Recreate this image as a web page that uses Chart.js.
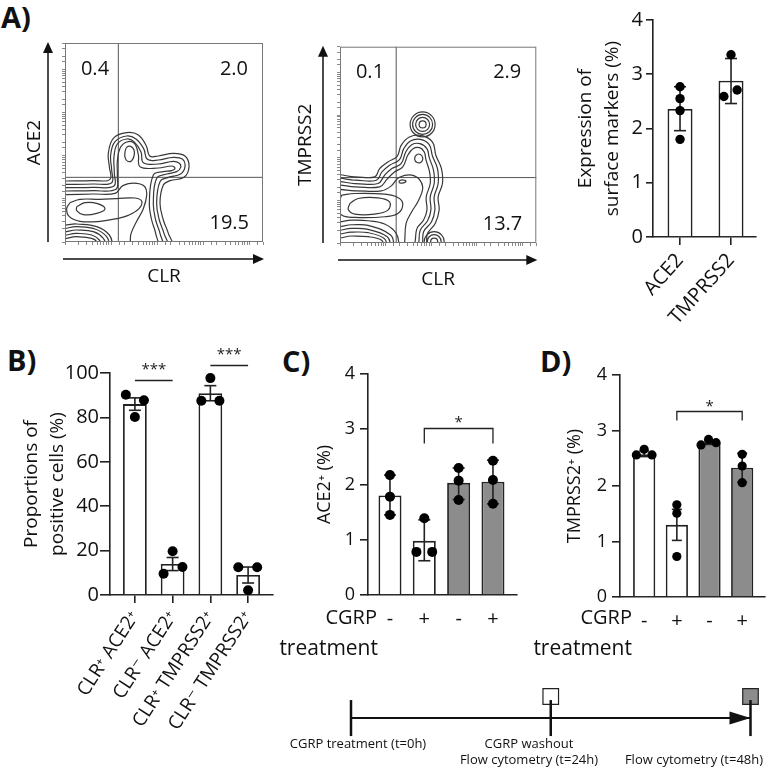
<!DOCTYPE html>
<html>
<head>
<meta charset="utf-8">
<title>CGRP, ACE2 and TMPRSS2 expression</title>
<script src="https://cdn.jsdelivr.net/npm/chart.js@4.4.1/dist/chart.umd.min.js"></script>
<style>
  html, body { margin: 0; background: #fff; }
  #fig { position: relative; width: 771px; height: 772px; overflow: hidden;
         font-family: "Open Sans", "DejaVu Sans", sans-serif; color: #111; }
  #fig canvas { position: absolute; }
  .txt { position: absolute; white-space: nowrap; line-height: 1; }
  .panel { font-weight: 700; font-size: 29px; }
  .row { font-size: 20px; }
  .row.wide { font-size: 21px; }
  .note { font-size: 13px; width: 300px; text-align: center; }
</style>
</head>
<body>
<div id="fig">
  <div class="txt panel" style="left:1px;top:2px">A)</div>
  <div class="txt panel" style="left:7px;top:345px">B)</div>
  <div class="txt panel" style="left:282px;top:346px">C)</div>
  <div class="txt panel" style="left:540px;top:346px">D)</div>

  <canvas id="flowAce2" width="275" height="265" style="left:0;top:30px"></canvas>
  <canvas id="flowTmprss2" width="270" height="265" style="left:280px;top:33px"></canvas>
  <canvas id="markers" width="211" height="340" style="left:560px;top:0"></canvas>
  <canvas id="subsets" width="290" height="432" style="left:0;top:340px"></canvas>
  <canvas id="cgrpAce2" width="240" height="300" style="left:290px;top:340px"></canvas>
  <canvas id="cgrpTmprss2" width="231" height="300" style="left:540px;top:340px"></canvas>
  <canvas id="timeline" width="501" height="107" style="left:270px;top:665px"></canvas>

  <div class="txt row" style="right:394px;top:607px">CGRP</div>
  <div class="txt row wide" style="right:393px;top:637px">treatment</div>
  <div class="txt row" style="right:139px;top:607px">CGRP</div>
  <div class="txt row wide" style="right:139px;top:637px">treatment</div>

  <div class="txt note" style="left:208px;top:737px">CGRP treatment (t=0h)</div>
  <div class="txt note" style="left:379px;top:737px">CGRP washout</div>
  <div class="txt note" style="left:379px;top:753px">Flow cytometry (t=24h)</div>
  <div class="txt note" style="left:544px;top:753px">Flow cytometry (t=48h)</div>
</div>

<script>
// ---------- data ----------

// A) contour plots, CLR (x) against ACE2 / TMPRSS2 (y), channel units
const ace2Gate = [160, 194];
const ace2Quadrants = ['0.4', '2.0', '19.5'];
const ace2Contours = [
  [[95,-14],[95,1],[80,11],[35,16],[-15,16],[-15,183],[5,183],[85,184],[135,188],[133,226],[130,266],[145,311],[185,328],[220,321],[244,288],[254,258],[280,258],[325,266],[360,258],[372,226],[357,194],[315,184],[295,171],[285,116],[295,66],[310,26],[320,-14]],
  [[110,-14],[103,6],[80,21],[35,26],[-15,26],[-15,173],[5,173],[85,174],[140,178],[140,216],[137,261],[150,301],[185,318],[213,309],[236,280],[247,248],[280,246],[325,254],[353,248],[360,226],[347,204],[310,194],[285,181],[275,116],[283,66],[297,26],[305,-14]],
  [[125,-14],[115,11],[85,31],[35,36],[-15,36],[-15,163],[5,163],[85,164],[147,168],[148,206],[147,256],[157,294],[185,309],[207,301],[228,270],[235,238],[280,234],[325,242],[343,236],[347,224],[335,211],[305,204],[275,191],[265,116],[272,66],[285,26],[290,-14]],
  [[135,-14],[125,16],[90,39],[35,46],[-15,46],[-15,153],[5,153],[85,154],[153,158],[157,196],[157,241],[165,281],[185,300],[208,296],[220,262],[225,226],[280,222],[320,228],[330,221],[320,214],[295,211],[265,201],[253,116],[260,66],[272,26],[275,-14]],
  [[145,-14],[133,21],[95,46],[35,54],[-15,56],[-15,141],[5,142],[85,144],[150,146],[175,170],[215,176],[240,165],[245,140],[235,100],[215,62],[198,25],[190,-14]],
  [[15,118],[45,128],[105,128],[155,130],[210,132],[230,122],[222,100],[190,80],[155,70],[105,62],[45,62],[13,76],[5,100]],
  [[35,106],[60,118],[95,116],[120,100],[95,86],[55,82],[35,94]],
  [[180,271],[185,284],[197,287],[207,276],[207,258],[200,244],[188,242],[180,254]]
];
const ace2Peaks = [];

const tmprss2Gate = [170, 197];
const tmprss2Quadrants = ['0.1', '2.9', '13.7'];
const tmprss2Contours = [
  [[135,-11],[125,9],[85,19],[35,21],[-15,21],[-15,197],[45,199],[105,199],[120,224],[145,244],[173,261],[185,294],[210,319],[245,324],[280,304],[290,264],[307,224],[310,179],[297,139],[300,99],[288,59],[265,29],[255,-11]],
  [[145,-11],[133,14],[85,31],[35,33],[-15,33],[-15,187],[45,189],[110,189],[127,214],[150,234],[180,251],[193,284],[213,307],[243,312],[270,296],[280,261],[295,224],[297,179],[285,139],[287,99],[277,64],[253,34],[243,-11]],
  [[155,-11],[143,19],[85,41],[35,44],[-15,44],[-15,177],[45,179],[115,179],[135,204],[157,224],[185,239],[199,274],[217,296],[242,299],[263,284],[270,257],[283,219],[285,179],[273,139],[275,99],[265,67],[243,39],[231,-11]],
  [[165,-11],[153,24],[85,53],[35,55],[-15,55],[-15,167],[45,169],[120,169],[143,193],[165,214],[190,229],[205,264],[221,284],[241,287],[255,274],[260,251],[271,214],[273,179],[261,139],[263,99],[253,69],[233,44],[220,-11]],
  [[180,-11],[170,29],[135,57],[85,67],[35,69],[-15,69],[-15,154],[45,157],[125,157],[155,172],[180,198],[225,202],[250,170],[238,129],[217,94],[200,59],[193,-11]],
  [[5,144],[45,149],[135,147],[175,137],[190,117],[175,89],[135,79],[45,77],[5,84],[-5,114]],
  [[30,119],[55,134],[115,136],[150,124],[145,99],[105,87],[45,87],[25,101]],
  [[228,262],[238,268],[248,262],[250,250],[243,242],[232,243],[226,252]],
  [[178,186],[188,190],[200,186],[192,181],[181,181]]
];
const tmprss2Peaks = [[250, 357], [285, 4]];

// A) surface marker expression (%)
const markerLabels = ['ACE2', 'TMPRSS2'];
const markerMean = [2.36, 2.88];
const markerLow = [1.96, 2.46];
const markerHigh = [2.77, 3.29];
const markerDots = [[2.77, 2.55, 2.33, 1.80], [3.36, 2.59, 2.71]];

// B) proportions of positive cells (%)
const subsetLabels = ['CLR⁺ ACE2⁺', 'CLR⁻ ACE2⁺', 'CLR⁺ TMPRSS2⁺', 'CLR⁻ TMPRSS2⁺'];
const subsetMean = [86.0, 14.0, 90.9, 9.0];
const subsetLow = [83.2, 11.0, 87.5, 5.4];
const subsetHigh = [88.8, 16.9, 94.3, 12.6];
const subsetDots = [[90.2, 87.7, 80.2], [19.7, 9.6, 12.6], [97.7, 87.5, 87.5], [12.5, 12.5, 2.1]];
const subsetSig = [[0, 1, 96.8, '***'], [2, 3, 103.6, '***']];

// C) / D) CGRP treatment
const cgrpTicks = ['-', '+', '-', '+'];
const ace2Mean = [1.80, 0.98, 2.03, 2.05];
const ace2Low = [1.45, 0.62, 1.73, 1.65];
const ace2High = [2.17, 1.36, 2.30, 2.44];
const ace2Dots = [[2.17, 1.78, 1.45], [1.39, 0.78, 0.78], [2.30, 2.07, 1.72], [2.43, 2.08, 1.65]];
const ace2Sig = [[1, 3, 3.02, '*']];

const tmprss2Mean = [2.57, 1.30, 2.78, 2.33];
const tmprss2Low = [2.53, 1.02, 2.75, 2.07];
const tmprss2High = [2.63, 1.58, 2.81, 2.59];
const tmprss2Dots = [[2.56, 2.66, 2.56], [1.66, 1.51, 0.73], [2.74, 2.84, 2.78], [2.57, 2.36, 2.06]];
const tmprss2Sig = [[1, 3, 3.35, '*']];

// timeline (hours)
const timelineHours = [0, 24, 48];
const sampleHours = [24, 48];

// ---------- styling ----------
const INK = '#222';
const CONTOUR = '#383838';
const GRAY = '#8c8c8c';
const FONT = '"Open Sans", "DejaVu Sans", sans-serif';

// horizontal spread of overlapping dots, in category units
const markerJitter = [[0, 0, 0, 0], [0, -0.14, 0.12]];
const subsetJitter = [[-0.24, 0.24, 0], [0, -0.24, 0.26], [0, -0.24, 0.24], [-0.26, 0.24, 0]];
const ace2Jitter = [[0, 0, 0], [0, -0.23, 0.23], [0, 0, 0], [0, 0, 0]];
const tmprss2Jitter = [[-0.24, 0, 0.24], [0, 0, 0], [-0.26, -0.03, 0.2], [0, 0, 0]];
const peakRadii = [[3.5, 7, 10, 12.5], [3.5, 7, 10]];
const sampleFill = ['#fff', GRAY];

Chart.defaults.font.family = FONT;
Chart.defaults.color = '#111';
Chart.defaults.animation = false;
Chart.defaults.events = [];
Chart.defaults.plugins.legend.display = false;
Chart.defaults.plugins.tooltip.enabled = false;

// box, axis arrows and quadrant frequencies for the contour plots
function flowDecor(quadrants) {
  return {
    id: 'flowDecor',
    afterDraw(chart) {
      const { ctx, chartArea: a } = chart;
      ctx.save();
      ctx.strokeStyle = '#777';
      ctx.lineWidth = 1;
      ctx.strokeRect(a.left + 0.5, a.top + 0.5, a.width - 1, a.height - 1);

      ctx.strokeStyle = '#111';
      ctx.fillStyle = '#111';
      ctx.lineWidth = 1.5;
      const ax = a.left - 17, ay = a.bottom + 17;
      ctx.beginPath(); ctx.moveTo(ax, a.bottom); ctx.lineTo(ax, a.top + 8); ctx.stroke();
      ctx.beginPath(); ctx.moveTo(ax, a.top - 1); ctx.lineTo(ax - 5, a.top + 10); ctx.lineTo(ax + 5, a.top + 10); ctx.fill();
      ctx.beginPath(); ctx.moveTo(a.left - 2, ay); ctx.lineTo(a.right - 8, ay); ctx.stroke();
      ctx.beginPath(); ctx.moveTo(a.right + 1, ay); ctx.lineTo(a.right - 10, ay - 5); ctx.lineTo(a.right - 10, ay + 5); ctx.fill();

      ctx.font = '20px ' + FONT;
      ctx.textBaseline = 'middle';
      ctx.textAlign = 'center';
      ctx.fillText(quadrants[0], a.left + 30, a.top + 26);
      ctx.textAlign = 'right';
      ctx.fillText(quadrants[1], a.right - 15, a.top + 26);
      ctx.fillText(quadrants[2], a.right - 14, a.bottom - 19);
      ctx.restore();
    }
  };
}

// faint log-decade tick marks along the left and bottom edge of a contour box
function logEdge(position, max) {
  const horizontal = position === 'bottom';
  return {
    type: 'logarithmic', position, weight: -1, min: 1, max,
    ticks: { display: false },
    grid: { drawOnChartArea: false, tickLength: 3, color: '#8a8a8a', lineWidth: 1 },
    border: { display: false },
    afterFit: s => { if (horizontal) s.height = 0; else s.width = 0; }
  };
}

function flowChart(id, o) {
  const datasets = [];
  o.contours.forEach(ring => {
    const pts = ring.map(([x, y]) => ({ x, y }));
    pts.push({ x: ring[0][0], y: ring[0][1] });
    datasets.push({ data: pts, showLine: true, tension: 0.4, borderColor: CONTOUR,
                    borderWidth: 1.2, pointRadius: 0, clip: 0 });
  });
  o.peaks.forEach(([x, y], k) => {
    datasets.push({ data: peakRadii[k].map(() => ({ x, y })), pointRadius: peakRadii[k],
                    pointBackgroundColor: 'rgba(0,0,0,0)', pointBorderColor: CONTOUR,
                    pointBorderWidth: 1.2, clip: 0 });
  });
  const [gx, gy] = o.gate;
  datasets.push({ data: [{ x: gx, y: -20 }, { x: gx, y: o.yMax + 20 }], showLine: true,
                  borderColor: '#555', borderWidth: 1, pointRadius: 0, clip: 0 });
  datasets.push({ data: [{ x: -20, y: gy }, { x: o.xMax + 20, y: gy }], showLine: true,
                  borderColor: '#555', borderWidth: 1, pointRadius: 0, clip: 0 });

  return new Chart(document.getElementById(id), {
    type: 'scatter',
    data: { datasets },
    options: {
      responsive: false,
      devicePixelRatio: 1,
      layout: { padding: { left: 0, top: 13, right: 12, bottom: 0 } },
      scales: {
        x: {
          min: 0, max: o.xMax,
          ticks: { display: false },
          grid: { display: false, drawTicks: false },
          border: { display: false },
          title: { display: true, text: 'CLR', color: '#111', font: { size: 19 }, padding: { top: 0, bottom: o.xTitlePad } },
          afterFit: s => { s.height = o.xAxisH; }
        },
        y: {
          min: 0, max: o.yMax,
          ticks: { display: false },
          grid: { display: false, drawTicks: false },
          border: { display: false },
          title: { display: true, text: o.yTitle, color: '#111', font: { size: 19 }, padding: { top: o.yTitlePad, bottom: 0 } },
          afterFit: s => { s.width = o.yAxisW; }
        },
        xDecades: logEdge('bottom', 2e4),
        yDecades: logEdge('left', 4e4)
      }
    },
    plugins: [flowDecor(o.quadrants)]
  });
}

// significance bars / brackets above the bars
function sigPlugin(marks, o) {
  return {
    id: 'sigMarks',
    afterDatasetsDraw(chart) {
      const { ctx, scales: { x, y } } = chart;
      ctx.save();
      ctx.strokeStyle = INK;
      ctx.fillStyle = INK;
      ctx.lineWidth = 1.3;
      ctx.font = o.size + 'px ' + FONT;
      ctx.textAlign = 'center';
      ctx.textBaseline = 'alphabetic';
      marks.forEach(([from, to, level, text]) => {
        const x1 = x.getPixelForValue(from), x2 = x.getPixelForValue(to);
        const py = Math.round(y.getPixelForValue(level)) + 0.5;
        ctx.beginPath();
        if (o.legs) {
          ctx.moveTo(x1, py + o.legs); ctx.lineTo(x1, py); ctx.lineTo(x2, py); ctx.lineTo(x2, py + o.legs);
        } else {
          ctx.moveTo(x1, py); ctx.lineTo(x2, py);
        }
        ctx.stroke();
        ctx.fillText(text, (x1 + x2) / 2, py + o.textDy);
      });
      ctx.restore();
    }
  };
}

function barChart(id, c) {
  const tickList = c.labels.map((_, i) => ({ value: i }));
  const errData = [];
  c.low.forEach((lo, i) => errData.push({ x: i, y: lo }, { x: i, y: c.high[i] }, { x: i, y: null }));
  const dotData = [];
  c.dots.forEach((vals, i) => vals.forEach((v, j) => dotData.push({ x: i + c.jitter[i][j], y: v })));

  return new Chart(document.getElementById(id), {
    type: 'bar',
    data: {
      datasets: [
        { type: 'scatter', data: dotData, pointRadius: c.dotR, pointBackgroundColor: '#000',
          pointBorderColor: '#000', pointBorderWidth: 0, order: 1, clip: false },
        { type: 'line', data: errData, borderColor: INK, borderWidth: 1.6, pointStyle: 'line',
          pointRadius: c.capR, pointBorderColor: INK, pointBorderWidth: 1.6, spanGaps: false,
          order: 2, clip: false },
        { type: 'bar', data: c.mean.map((m, i) => ({ x: i, y: m })), backgroundColor: c.fill,
          borderColor: INK, borderWidth: 1.8, categoryPercentage: 1, barPercentage: c.barPct, order: 3 }
      ]
    },
    options: {
      responsive: false,
      devicePixelRatio: 1,
      layout: { padding: c.padding },
      scales: {
        x: {
          type: 'linear', min: c.xMin, max: c.xMax, offset: false,
          grid: { display: c.xTickLen > 0, drawOnChartArea: false, drawTicks: c.xTickLen > 0,
                  tickLength: c.xTickLen, color: INK, lineWidth: 1.6, offset: false },
          border: { display: true, color: INK, width: 1.6 },
          ticks: { autoSkip: false, maxRotation: c.rotation, minRotation: c.rotation,
                   padding: c.xTickPad, color: '#111', font: { size: c.labelSize },
                   callback: v => c.labels[v] },
          afterBuildTicks: s => { s.ticks = tickList.map(t => ({ value: t.value })); },
          afterFit: s => { s.height = c.xAxisH; }
        },
        y: {
          min: 0, max: c.yMax,
          ticks: { stepSize: c.yStep, padding: c.yTickPad, color: '#111', font: { size: c.tickSize } },
          grid: { drawOnChartArea: false, tickLength: c.yTickLen, color: INK, lineWidth: 1.6 },
          border: { display: true, color: INK, width: 1.6 },
          title: { display: true, text: c.yTitle, color: '#111',
                   font: { size: c.titleSize, lineHeight: c.titleLH },
                   padding: { top: c.titlePad, bottom: 0 } },
          afterFit: s => { s.width = c.yAxisW; }
        }
      }
    },
    plugins: c.sig ? [sigPlugin(c.sig, c.sigStyle)] : []
  });
}

// ---------- panels ----------
flowChart('flowAce2', {
  contours: ace2Contours, peaks: ace2Peaks, gate: ace2Gate, quadrants: ace2Quadrants,
  xMax: 594, yMax: 597, yTitle: 'ACE2', yAxisW: 65, xAxisH: 53, yTitlePad: 23, xTitlePad: 7
});

flowChart('flowTmprss2', {
  contours: tmprss2Contours, peaks: tmprss2Peaks, gate: tmprss2Gate, quadrants: tmprss2Quadrants,
  xMax: 594, yMax: 591, yTitle: 'TMPRSS2', yAxisW: 60, xAxisH: 55, yTitlePad: 14, xTitlePad: 7
});

barChart('markers', {
  labels: markerLabels, mean: markerMean, low: markerLow, high: markerHigh,
  dots: markerDots, jitter: markerJitter, fill: ['#fff', '#fff'],
  yMax: 4, yStep: 1, yTitle: ['Expression of', 'surface markers (%)'],
  xMin: -0.53, xMax: 1.49, barPct: 0.49,
  padding: { top: 20, right: 15, left: 0, bottom: 0 }, yAxisW: 93, xAxisH: 103,
  rotation: 48, xTickLen: 8, xTickPad: 4, yTickLen: 7, yTickPad: 3,
  tickSize: 20, labelSize: 20, titleSize: 19, titleLH: 1.4, titlePad: 12.7,
  dotR: 4.7, capR: 6
});

barChart('subsets', {
  labels: subsetLabels, mean: subsetMean, low: subsetLow, high: subsetHigh,
  dots: subsetDots, jitter: subsetJitter, fill: '#fff',
  yMax: 100, yStep: 20, yTitle: ['Proportions of', 'positive cells (%)'],
  xMin: -0.66, xMax: 3.66, barPct: 0.63,
  padding: { top: 33, right: 17, left: 0, bottom: 0 }, yAxisW: 110, xAxisH: 177,
  rotation: 57, xTickLen: 8, xTickPad: 4, yTickLen: 10, yTickPad: 1,
  tickSize: 20, labelSize: 19, titleSize: 19, titleLH: 1.32, titlePad: 19.5,
  dotR: 5, capR: 6,
  sig: subsetSig, sigStyle: { size: 15, legs: 0, textDy: -7 }
});

barChart('cgrpAce2', {
  labels: cgrpTicks, mean: ace2Mean, low: ace2Low, high: ace2High,
  dots: ace2Dots, jitter: ace2Jitter, fill: ['#fff', '#fff', GRAY, GRAY],
  yMax: 4, yStep: 1, yTitle: 'ACE2⁺ (%)',
  xMin: -0.64, xMax: 3.7, barPct: 0.67,
  padding: { top: 34, right: 13, left: 0, bottom: 0 }, yAxisW: 78, xAxisH: 45,
  rotation: 0, xTickLen: 0, xTickPad: 12, yTickLen: 8, yTickPad: 5,
  tickSize: 18, labelSize: 20, titleSize: 18, titleLH: 1.2, titlePad: 24,
  dotR: 5, capR: 6,
  sig: ace2Sig, sigStyle: { size: 15, legs: 15, textDy: -2 }
});

barChart('cgrpTmprss2', {
  labels: cgrpTicks, mean: tmprss2Mean, low: tmprss2Low, high: tmprss2High,
  dots: tmprss2Dots, jitter: tmprss2Jitter, fill: ['#fff', '#fff', GRAY, GRAY],
  yMax: 4, yStep: 1, yTitle: 'TMPRSS2⁺ (%)',
  xMin: -0.74, xMax: 3.68, barPct: 0.68,
  padding: { top: 35, right: 1, left: 0, bottom: 0 }, yAxisW: 80, xAxisH: 43,
  rotation: 0, xTickLen: 0, xTickPad: 12, yTickLen: 8, yTickPad: 5,
  tickSize: 18, labelSize: 20, titleSize: 18, titleLH: 1.2, titlePad: 24,
  dotR: 4.6, capR: 5,
  sig: tmprss2Sig, sigStyle: { size: 15, legs: 9, textDy: -1 }
});

// timeline arrow head at the last time point
const arrowHead = {
  id: 'arrowHead',
  afterDatasetsDraw(chart) {
    const { ctx, scales: { x, y } } = chart;
    const tipX = x.getPixelForValue(timelineHours[timelineHours.length - 1]);
    const tipY = y.getPixelForValue(0);
    ctx.save();
    ctx.fillStyle = '#111';
    ctx.beginPath();
    ctx.moveTo(tipX, tipY);
    ctx.lineTo(tipX - 21, tipY - 6.5);
    ctx.lineTo(tipX - 21, tipY + 6.5);
    ctx.closePath();
    ctx.fill();
    ctx.restore();
  }
};

new Chart(document.getElementById('timeline'), {
  type: 'scatter',
  data: {
    datasets: [
      { data: [{ x: timelineHours[0], y: 0 }, { x: timelineHours[timelineHours.length - 1], y: 0 }],
        showLine: true, borderColor: '#111', borderWidth: 2, pointRadius: 0, clip: false },
      { data: timelineHours.map(h => ({ x: h, y: 0 })), pointStyle: 'line', pointRotation: 90,
        pointRadius: 18, pointBorderColor: '#111', pointBorderWidth: 2.5, clip: false },
      { data: sampleHours.map(h => ({ x: h, y: 1 })), pointStyle: 'rect', pointRadius: 11,
        pointBackgroundColor: sampleFill, pointBorderColor: INK, pointBorderWidth: 1.2, clip: false }
    ]
  },
  options: {
    responsive: false,
    devicePixelRatio: 1,
    layout: { padding: { left: 81, right: 18, top: 0, bottom: 0 } },
    scales: {
      x: { display: false, min: 0, max: 48 },
      y: { display: false, min: -1.55, max: 1.51 }
    }
  },
  plugins: [arrowHead]
});
</script>
</body>
</html>
